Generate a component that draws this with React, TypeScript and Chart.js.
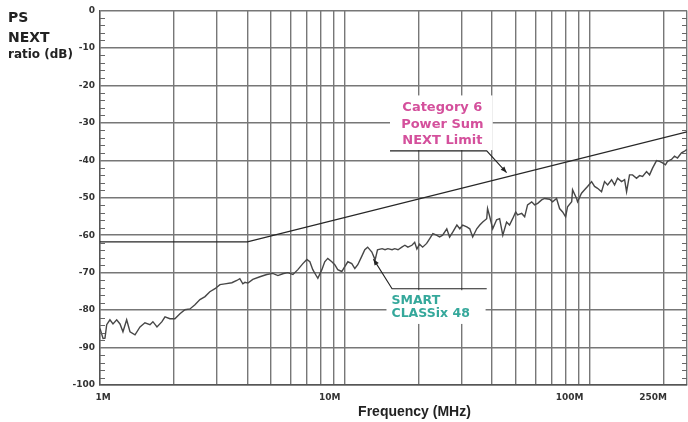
import React, { useEffect, useRef } from 'react';
import { Chart, registerables } from 'chart.js';

Chart.register(...registerables);

// ---------- data ----------
const measuredFreqMHz = [
  1.0, 1.029, 1.048, 1.065, 1.098, 1.13, 1.17, 1.207, 1.241, 1.285, 1.326, 1.39, 1.457, 1.526, 1.6, 1.645,
  1.709, 1.791, 1.843, 1.93, 2.023, 2.121, 2.223, 2.33, 2.443, 2.56, 2.686, 2.81, 2.95, 3.09, 3.236, 3.456,
  3.621, 3.725, 3.833, 3.91, 4.02, 4.21, 4.5, 4.8, 5.08, 5.33, 5.58, 5.85, 6.14, 6.43, 6.74, 7.0, 7.2, 7.4,
  7.69, 7.76, 8.06, 8.28, 8.52, 8.85, 9.1, 9.36, 9.72, 10.0, 10.29, 10.68, 10.99, 11.3, 11.7, 12.07, 12.4,
  12.9, 13.3, 13.6, 14.2, 14.6, 15.0, 15.6, 16.0, 16.5, 17.1, 17.6, 18.1, 18.8, 19.3, 19.7, 20.2, 20.8, 21.6,
  22.2, 22.9, 23.7, 24.4, 25.1, 26.1, 26.8, 27.6, 28.7, 29.5, 30.3, 31.5, 32.4, 33.3, 34.6, 35.6, 36.6, 38.0,
  38.3, 39.1, 40.2, 41.7, 42.9, 44.2, 45.8, 47.1, 48.5, 49.9, 50.8, 52.8, 54.3, 55.8, 58.0, 59.6, 61.4, 63.7,
  65.5, 68.7, 70.6, 73.3, 75.4, 77.6, 79.8, 81.3, 84.5, 85.2, 88.5, 89.3, 92.7, 95.4, 98.1, 101.9, 104.8,
  107.8, 111.9, 115.1, 118.5, 123.0, 126.5, 130.1, 135.1, 139.0, 141.6, 145.6, 149.8, 155.5, 160.0, 164.6,
  170.9, 175.8, 180.8, 187.7, 193.1, 198.6, 204.2, 208.1, 216.1, 222.3, 228.6, 237.4, 244.3, 250
];
const measuredDb = [
  -84.9, -87.6, -87.5, -83.9, -82.6, -83.7, -82.6, -83.7, -85.8, -82.6, -85.8, -86.6, -84.5, -83.4, -83.9, -83.1,
  -84.5, -83.1, -81.8, -82.3, -82.3, -81.0, -79.9, -79.7, -78.6, -77.2, -76.4, -75.1, -74.3, -73.2, -73.0, -72.7,
  -72.1, -71.6, -73.0, -72.6, -72.8, -71.8, -71.1, -70.5, -70.2, -70.8, -70.3, -70.0, -70.5, -69.2, -67.6, -66.5, -67.1, -69.2,
  -71.1, -71.5, -69.2, -67.1, -66.2, -67.1, -67.9, -69.2, -69.7, -68.4, -67.1, -67.6, -68.9, -67.9, -65.8, -63.9, -63.2,
  -64.5, -66.6, -63.9, -63.6, -63.9, -63.6, -63.9, -63.6, -63.9, -63.2, -62.7, -63.2, -62.7, -61.9, -63.7, -62.4, -63.2, -62.2,
  -61.0, -59.6, -60.0, -60.5, -60.0, -58.3, -60.5, -59.2, -57.3, -58.3, -57.3, -57.8, -58.3, -60.5, -58.3, -57.3, -56.5, -55.6,
  -52.9, -55.1, -58.3, -55.9, -55.6, -60.0, -56.5, -57.3, -55.6, -53.8, -54.6, -54.2, -55.1, -51.9, -51.1, -51.9, -51.5, -50.6,
  -50.2, -50.4, -51.1, -50.2, -52.9, -53.8, -55.1, -52.4, -51.1, -47.9, -50.2, -51.1, -48.8, -47.9, -47.0, -45.7, -47.0,
  -47.5, -48.4, -45.7, -46.6, -45.2, -46.6, -44.8, -45.7, -45.2, -48.4, -43.9, -43.9, -44.8, -44.1, -44.3,
  -43.0, -43.9, -42.1, -40.1, -40.3, -40.7, -41.2, -40.3, -39.8, -38.9, -39.4, -38.0, -37.6, -37.1
];
const limitFreqMHz = [1, 4, 250];
const limitDb = [-61.8, -61.8, -32.4];

const xGridMHz = [1, 2, 3, 4, 5, 6, 7, 8, 9, 10, 20, 30, 40, 50, 60, 70, 80, 90, 100, 200, 250];
const xLabelMHz = [1, 10, 100, 250];
const xLabelText = ['1M', '10M', '100M', '250M'];
const yMinDb = -100;
const yMaxDb = 0;
const yMajorStep = 10;
const yMinorStep = 2;

const limitNoteLines = ['Category 6', 'Power Sum', 'NEXT Limit'];
const smartNoteLines = ['SMART', 'CLASSix 48'];

// ---------- styles / annotation placement ----------
const FONT = '"DejaVu Sans", Verdana, sans-serif';
const GRID = '#777777';
const xLabelNudge = [3, -15, -20, -34];
const limitNote = {
  color: '#d4509c',
  box: { f0: 15.3, f1: 40.2, dbTop: -22.7, dbBottom: -37.3 },
  lineOffsets: [12, 29, 45],
  leader: [[45.8, -43.3], [38, -37.5], [15.3, -37.5]],
};
const smartNote = {
  color: '#35a89b',
  box: { f0: 14.8, f1: 37.6, dbTop: -74.7, dbBottom: -83.7 },
  lineOffsets: [10.5, 24],
  leader: [[13.1, -66.4], [15.6, -74.3], [38, -74.3]],
};

function drawArrowLeader(ctx: CanvasRenderingContext2D, x: any, y: any, pts: number[][]) {
  const p = pts.map(([f, d]) => [x.getPixelForValue(f), y.getPixelForValue(d)]);
  ctx.save();
  ctx.strokeStyle = '#222';
  ctx.fillStyle = '#222';
  ctx.lineWidth = 1.1;
  ctx.beginPath();
  ctx.moveTo(p[0][0], p[0][1]);
  for (let i = 1; i < p.length; i++) ctx.lineTo(p[i][0], p[i][1]);
  ctx.stroke();
  const dx = p[0][0] - p[1][0];
  const dy = p[0][1] - p[1][1];
  const len = Math.hypot(dx, dy) || 1;
  const ux = dx / len, uy = dy / len;
  const L = 6, W = 2.5;
  ctx.beginPath();
  ctx.moveTo(p[0][0], p[0][1]);
  ctx.lineTo(p[0][0] - ux * L - uy * W, p[0][1] - uy * L + ux * W);
  ctx.lineTo(p[0][0] - ux * L + uy * W, p[0][1] - uy * L - ux * W);
  ctx.closePath();
  ctx.fill();
  ctx.restore();
}

const decor = {
  id: 'decor',
  beforeDatasetsDraw(chart: any) {
    const { ctx, scales: { x, y } } = chart;
    ctx.save();
    ctx.fillStyle = '#ffffff';
    for (const n of [limitNote, smartNote]) {
      const x0 = x.getPixelForValue(n.box.f0);
      const x1 = x.getPixelForValue(n.box.f1);
      const y0 = y.getPixelForValue(n.box.dbTop);
      const y1 = y.getPixelForValue(n.box.dbBottom);
      ctx.fillRect(x0, y0, x1 - x0, y1 - y0);
    }
    ctx.restore();
  },
  afterDatasetsDraw(chart: any) {
    const { ctx, chartArea, scales: { x, y } } = chart;
    ctx.save();
    // minor y ticks, inside left and right borders
    ctx.strokeStyle = '#666';
    ctx.lineWidth = 1;
    for (let v = yMaxDb - yMinorStep; v > yMinDb; v -= yMinorStep) {
      if (v % yMajorStep === 0) continue;
      const py = Math.round(y.getPixelForValue(v)) + 0.5;
      ctx.beginPath();
      ctx.moveTo(chartArea.left, py);
      ctx.lineTo(chartArea.left + 5, py);
      ctx.moveTo(chartArea.right - 5, py);
      ctx.lineTo(chartArea.right, py);
      ctx.stroke();
    }
    // x labels
    ctx.fillStyle = '#333';
    ctx.font = `bold 9px ${FONT}`;
    ctx.textAlign = 'center';
    ctx.textBaseline = 'middle';
    xLabelMHz.forEach((v, i) => {
      ctx.fillText(xLabelText[i], x.getPixelForValue(v) + xLabelNudge[i], chartArea.bottom + 13);
    });
    // leaders
    drawArrowLeader(ctx, x, y, limitNote.leader);
    drawArrowLeader(ctx, x, y, smartNote.leader);
    // note texts
    ctx.font = `bold 13px ${FONT}`;
    ctx.textBaseline = 'middle';
    {
      const x0 = x.getPixelForValue(limitNote.box.f0);
      const x1 = x.getPixelForValue(limitNote.box.f1);
      const y0 = y.getPixelForValue(limitNote.box.dbTop);
      ctx.fillStyle = limitNote.color;
      ctx.textAlign = 'center';
      limitNoteLines.forEach((t, i) => ctx.fillText(t, (x0 + x1) / 2 + 1, y0 + limitNote.lineOffsets[i]));
    }
    {
      ctx.font = `bold 12.5px ${FONT}`;
      const x0 = x.getPixelForValue(smartNote.box.f0);
      const y0 = y.getPixelForValue(smartNote.box.dbTop);
      ctx.fillStyle = smartNote.color;
      ctx.textAlign = 'left';
      smartNoteLines.forEach((t, i) => ctx.fillText(t, x0 + 5, y0 + smartNote.lineOffsets[i]));
    }
    // axis titles
    ctx.fillStyle = '#222';
    ctx.textAlign = 'left';
    ctx.textBaseline = 'alphabetic';
    ctx.font = `bold 14px ${FONT}`;
    ctx.fillText('PS', 8, 22);
    ctx.fillText('NEXT', 8, 42);
    ctx.font = `bold 12px ${FONT}`;
    ctx.fillText('ratio (dB)', 8, 58);
    ctx.font = 'bold 14px "Liberation Sans", Arial, sans-serif';
    ctx.textAlign = 'center';
    ctx.fillText('Frequency (MHz)', (chartArea.left + chartArea.right) / 2 + 21, chartArea.bottom + 31);
    ctx.restore();
  },
};

export default function App() {
  const ref = useRef<HTMLCanvasElement | null>(null);
  useEffect(() => {
    if (!ref.current) return;
    const measured = measuredFreqMHz.map((f, i) => ({ x: f, y: measuredDb[i] }));
    const limit = limitFreqMHz.map((f, i) => ({ x: f, y: limitDb[i] }));
    const chart = new Chart(ref.current, {
      type: 'line',
      data: {
        datasets: [
          { data: measured, borderColor: '#474747', borderWidth: 1.4, pointRadius: 0, tension: 0, fill: false },
          { data: limit, borderColor: '#262626', borderWidth: 1.3, pointRadius: 0, tension: 0, fill: false },
        ],
      },
      options: {
        animation: false,
        responsive: false,
        maintainAspectRatio: false,
        events: [],
        layout: { padding: { top: 10, right: 1, left: 0, bottom: 0 } },
        plugins: { legend: { display: false }, tooltip: { enabled: false }, title: { display: false } },
        scales: {
          x: {
            type: 'logarithmic',
            min: xGridMHz[0],
            max: xGridMHz[xGridMHz.length - 1],
            afterBuildTicks: (s: any) => { s.ticks = xGridMHz.map((v) => ({ value: v })); },
            afterFit: (s: any) => { s.height = 37; },
            ticks: { display: false },
            grid: { color: GRID, lineWidth: 1.4, drawTicks: false },
            border: { display: true, color: '#555', width: 1.4 },
          },
          y: {
            min: yMinDb,
            max: yMaxDb,
            afterFit: (s: any) => { s.width = 100; },
            ticks: {
              stepSize: yMajorStep,
              font: { family: FONT, size: 9, weight: 'bold' },
              color: '#333',
              padding: 5,
              callback: (v: any) => String(v),
            },
            grid: { color: GRID, lineWidth: 1.4, drawTicks: false },
            border: { display: true, color: '#555', width: 1.4 },
          },
        },
      } as any,
      plugins: [decor],
    });
    return () => chart.destroy();
  }, []);
  return (
    <div style={{ position: 'fixed', left: 0, top: 0, width: 688, height: 422, background: '#fff' }}>
      <canvas ref={ref} width={688} height={422} style={{ display: 'block' }} />
    </div>
  );
}
